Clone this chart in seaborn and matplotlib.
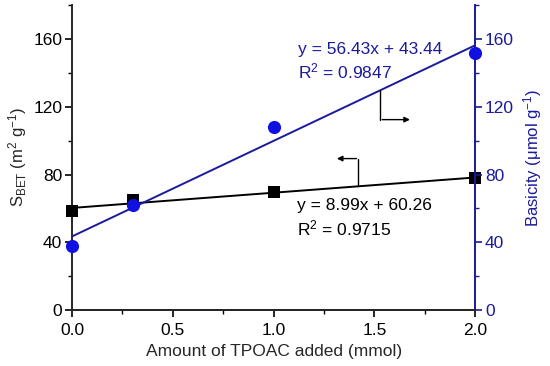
import matplotlib
matplotlib.use("Agg")
import matplotlib.pyplot as plt
import seaborn as sns
import numpy as np
import pandas as pd
from matplotlib.ticker import MultipleLocator

# Data
tpoac = [0.0, 0.3, 1.0, 2.0]
s_bet = [58.5, 65.0, 69.5, 78.0]
basicity = [38.0, 62.0, 108.0, 152.0]
fit_x = [0.0, 2.0]
sbet_slope, sbet_icpt = 8.99, 60.26
bas_slope, bas_icpt = 56.43, 43.44

sns.set_theme(style="ticks")
plt.rcParams['font.family'] = ['Liberation Sans', 'DejaVu Sans']
plt.rcParams['mathtext.fontset'] = 'custom'
plt.rcParams['mathtext.rm'] = 'Liberation Sans'
plt.rcParams['mathtext.it'] = 'Liberation Sans'

BLUE = '#1a1a9c'
BLUE_PT = '#1010e0'
FS = 12.5

fig = plt.figure(figsize=(5.5, 3.66), dpi=100)
ax = fig.add_axes([0.131, 0.153, 0.733, 0.833])
ax2 = ax.twinx()

df = pd.DataFrame({'x': tpoac, 'sbet': s_bet, 'bas': basicity})
fit_df = pd.DataFrame({'x': fit_x,
                       'sbet': [sbet_slope * v + sbet_icpt for v in fit_x],
                       'bas': [bas_slope * v + bas_icpt for v in fit_x]})

sns.lineplot(data=fit_df, x='x', y='sbet', ax=ax, color='black', lw=1.4)
sns.scatterplot(data=df, x='x', y='sbet', ax=ax, marker='s', s=75, color='black',
                edgecolor='black', linewidth=0, zorder=5, clip_on=False)
sns.lineplot(data=fit_df, x='x', y='bas', ax=ax2, color=BLUE, lw=1.4)
sns.scatterplot(data=df, x='x', y='bas', ax=ax2, marker='o', s=90, color=BLUE_PT,
                edgecolor=BLUE_PT, linewidth=0, zorder=5, clip_on=False)

for a in (ax, ax2):
    a.set_xlim(0, 2.0)
    a.set_ylim(0, 180)
    a.spines['top'].set_visible(False)
    a.yaxis.set_major_locator(MultipleLocator(40))
    a.yaxis.set_minor_locator(MultipleLocator(20))

ax.xaxis.set_major_locator(MultipleLocator(0.5))
ax.xaxis.set_minor_locator(MultipleLocator(0.25))
ax.set_xticks([0, 0.5, 1.0, 1.5, 2.0])
ax.set_xticklabels(['0.0', '0.5', '1.0', '1.5', '2.0'])

ax.spines['right'].set_visible(False)
ax2.spines['left'].set_visible(False)
ax2.spines['right'].set_color(BLUE)
for a in (ax, ax2):
    for s in a.spines.values():
        s.set_linewidth(1.4)

ax.tick_params(axis='x', which='major', pad=4)
ax.tick_params(axis='both', which='major', direction='out', length=5, width=1.2,
               labelsize=FS, color='black', labelcolor='black')
ax.tick_params(axis='y', which='major', pad=2)
ax.tick_params(axis='both', which='minor', direction='out', length=3, width=1.0, color='black')
ax2.tick_params(axis='y', which='major', direction='out', length=5, width=1.2,
                labelsize=FS, color=BLUE, labelcolor=BLUE, pad=2)
ax2.tick_params(axis='y', which='minor', direction='out', length=3, width=1.0, color=BLUE)

ax.set_xlabel('Amount of TPOAC added (mmol)', fontsize=FS, labelpad=5)
ax.set_ylabel(r'S$_{\mathrm{BET}}$ (m$^{2}$ g$^{-1}$)', fontsize=12, labelpad=3)
ax2.set_ylabel(r'Basicity ($\mathrm{\mu}$mol g$^{-1}$)', fontsize=12, color=BLUE, labelpad=5)

# Equations
ax2.text(1.12, 154, 'y = 56.43x + 43.44', color=BLUE, fontsize=FS, va='center')
ax2.text(1.12, 141, r'R$^{2}$ = 0.9847', color=BLUE, fontsize=FS, va='center')
ax.text(1.117, 61.8, 'y = 8.99x + 60.26', color='black', fontsize=FS, va='center')
ax.text(1.117, 48.2, r'R$^{2}$ = 0.9715', color='black', fontsize=FS, va='center')

# Arrows
ax.plot([1.42, 1.42], [73.0, 89.4], color='black', lw=1.0)
ax.annotate('', xy=(1.30, 89.4), xytext=(1.425, 89.4),
            arrowprops=dict(arrowstyle='-|>', color='black', lw=1.0, mutation_scale=8))
ax2.plot([1.53, 1.53], [129.8, 112.4], color='black', lw=1.0)
ax2.annotate('', xy=(1.69, 112.4), xytext=(1.525, 112.4),
             arrowprops=dict(arrowstyle='-|>', color='black', lw=1.0, mutation_scale=8))

fig.savefig('out.png', dpi=100)
